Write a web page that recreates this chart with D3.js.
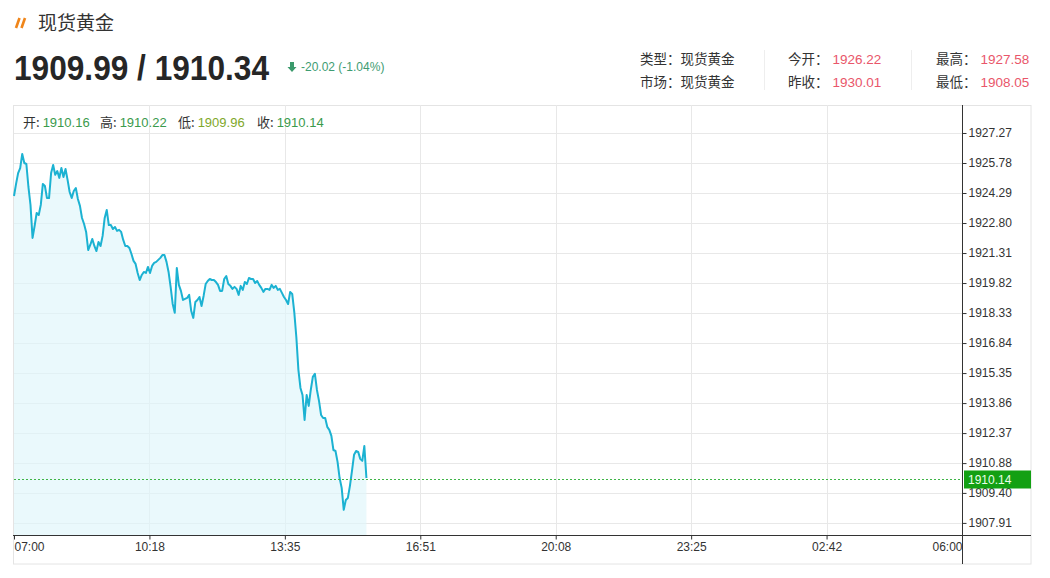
<!DOCTYPE html>
<html><head><meta charset="utf-8">
<script src="https://cdn.jsdelivr.net/npm/d3@7/dist/d3.min.js"></script>
<style>
html,body{margin:0;padding:0;background:#fff;}
svg{display:block;font-family:"Liberation Sans",Arial,sans-serif;}
.cjk{font-family:"Noto Sans CJK SC","Liberation Sans",sans-serif;}
</style></head>
<body><svg id="c" width="1050" height="578"></svg>
<script>
// ---- data ----
const title = "现货黄金";
const bid = "1909.99", ask = "1910.34";
const change = "-20.02", changePct = "-1.04%";
const infoLeft = [["类型：", "现货黄金"], ["市场：", "现货黄金"]];
const infoMid = [["今开：", "1926.22"], ["昨收：", "1930.01"]];
const infoRight = [["最高：", "1927.58"], ["最低：", "1908.05"]];
const ohlcLabels = ["开", "高", "低", "收"];
const ohlcValues = ["1910.16", "1910.22", "1909.96", "1910.14"];
const lastPrice = 1910.14;
const startTime = "07:00";
const stepMinutes = 3;
const sessionMinutes = 1380;
const xTickLabels = ["07:00", "10:18", "13:35", "16:51", "20:08", "23:25", "02:42", "06:00"];
const yTickLabels = ["1927.27","1925.78","1924.29","1922.80","1921.31","1919.82","1918.33","1916.84","1915.35","1913.86","1912.37","1910.88","1909.40","1907.91"];
const yDomain = [1907.31, 1928.66];
const prices = [
1924.14,1924.74,1925.28,1925.53,1926.23,1925.78,1925.73,1924.59,1923.70,1922.06,
1922.65,1923.30,1923.20,1923.70,1924.74,1924.64,1924.04,1924.04,1925.28,1925.68,
1925.19,1925.38,1925.04,1925.53,1925.09,1925.48,1924.94,1924.34,1924.04,1924.39,
1924.54,1923.99,1923.65,1923.05,1922.75,1922.36,1921.46,1921.71,1922.01,1921.66,
1921.41,1921.86,1921.66,1922.16,1923.05,1923.45,1922.70,1922.70,1922.50,1922.60,
1922.41,1922.46,1922.36,1921.96,1921.66,1921.66,1921.56,1921.26,1920.92,1920.77,
1920.32,1919.97,1920.22,1920.37,1920.32,1920.62,1920.32,1920.67,1920.82,1920.87,
1920.97,1921.07,1921.21,1921.21,1920.87,1920.37,1919.63,1918.78,1918.34,1920.57,
1919.73,1919.43,1918.98,1919.03,1919.08,1919.23,1918.43,1918.09,1918.88,1918.98,
1919.13,1918.68,1919.18,1919.77,1919.92,1920.02,1919.97,1919.97,1919.87,1919.73,
1919.43,1919.43,1920.02,1920.17,1919.77,1919.68,1919.53,1919.63,1919.53,1919.23,
1919.68,1919.48,1919.87,1919.77,1920.07,1920.02,1920.02,1919.82,1919.92,1919.73,
1919.58,1919.38,1919.53,1919.53,1919.48,1919.73,1919.58,1919.68,1919.48,1919.53,
1919.33,1919.13,1918.98,1918.78,1919.38,1919.28,1918.38,1917.14,1915.51,1914.61,
1914.26,1913.02,1914.26,1913.72,1914.51,1915.16,1915.31,1914.51,1913.97,1913.27,
1913.12,1913.12,1912.68,1912.53,1912.23,1911.53,1911.48,1910.94,1910.14,1909.65,
1908.56,1909.05,1909.15,1909.75,1910.49,1911.29,1911.48,1911.44,1911.09,1910.99,
1911.73,1910.14
];

// ---- layout ----
const svg = d3.select("#c");
const L = 14, R = 962, T = 105, B = 535, frameR = 1031, frameB = 564;
const x = d3.scaleLinear().domain([0, sessionMinutes]).range([L, R]);
const y = d3.scaleLinear().domain(yDomain).range([B, T]);
const data = prices.map((v, i) => ({ m: i * stepMinutes, v }));
const xTicks = xTickLabels.map((s, i) => ({ m: i * sessionMinutes / (xTickLabels.length - 1), s }));
const yTicks = yTickLabels.map(s => +s);

// header
const icon = svg.append("g").attr("stroke", "#f08519").attr("stroke-width", 2.6).attr("stroke-linecap", "butt");
icon.append("line").attr("x1", 16).attr("y1", 28).attr("x2", 19.5).attr("y2", 18);
icon.append("line").attr("x1", 21.5).attr("y1", 28).attr("x2", 25).attr("y2", 18);
svg.append("text").attr("class", "cjk").attr("x", 38).attr("y", 30).attr("font-size", 19).attr("fill", "#333").text(title);
svg.append("text").attr("x", 14).attr("y", 80).attr("font-size", 35).attr("font-weight", "bold").attr("fill", "#262626")
  .attr("textLength", 255).attr("lengthAdjust", "spacingAndGlyphs").text(bid + " / " + ask);
svg.append("path").attr("d", "M290,62 h4 v5 h2.5 l-4.5,5 l-4.5,-5 h2.5 z").attr("fill", "#3a9a6c");
svg.append("text").attr("x", 301).attr("y", 70.5).attr("font-size", 12).attr("fill", "#3e9c72").text(change + " (" + changePct + ")");

function infoCol(arr, x0, valColor, gap) {
  arr.forEach((d, i) => {
    const t = svg.append("text").attr("class", "cjk").attr("x", x0).attr("y", 64 + i * 22.5).attr("font-size", 13.5).attr("fill", "#333");
    t.append("tspan").text(d[0]);
    t.append("tspan").attr("fill", valColor).attr("dx", gap).attr("font-family", gap ? "'Liberation Sans',Arial,sans-serif" : null).text(d[1]);
  });
}
infoCol(infoLeft, 640, "#333", 0);
infoCol(infoMid, 788, "#e9566a", 4);
infoCol(infoRight, 936, "#e9566a", 4);
[764, 911].forEach(sx => svg.append("line").attr("x1", sx + 0.5).attr("x2", sx + 0.5).attr("y1", 50).attr("y2", 90).attr("stroke", "#eeeeee"));

// frame
svg.append("rect").attr("x", 13.5).attr("y", 105.5).attr("width", frameR - 13.5).attr("height", frameB - 105.5).attr("fill", "none").attr("stroke", "#e4e4e4");

// gridlines
svg.append("g").selectAll("line").data(yTicks).join("line")
  .attr("x1", L).attr("x2", R).attr("y1", d => Math.round(y(d)) + 0.5).attr("y2", d => Math.round(y(d)) + 0.5)
  .attr("stroke", "#e8e8e8");
svg.append("g").selectAll("line").data(xTicks.slice(1, -1)).join("line")
  .attr("x1", d => Math.round(x(d.m)) + 0.5).attr("x2", d => Math.round(x(d.m)) + 0.5).attr("y1", T).attr("y2", B)
  .attr("stroke", "#e8e8e8");

// area + line
const area = d3.area().x(d => x(d.m)).y0(B).y1(d => y(d.v));
const line = d3.line().x(d => x(d.m)).y(d => y(d.v));
svg.append("path").datum(data).attr("d", area).attr("fill", "#dff6fb").attr("fill-opacity", 0.65);
svg.append("path").datum(data).attr("d", line).attr("fill", "none").attr("stroke", "#1cb2d2").attr("stroke-width", 2).attr("stroke-linejoin", "round");

// last price dotted line
const ly = Math.round(y(lastPrice)) + 1.5;
svg.append("line").attr("x1", L).attr("x2", R).attr("y1", ly).attr("y2", ly).attr("stroke", "#3fb547").attr("stroke-dasharray", "2,2").attr("stroke-width", 1);

// axes
const yAxis = d3.axisRight(y).tickValues(yTicks).tickSize(4).tickFormat((d, i) => yTickLabels[i]);
const gy = svg.append("g").attr("transform", `translate(${R + 0.5},0)`).call(yAxis);
gy.select(".domain").remove();
gy.selectAll(".tick line").attr("stroke", "#333");
gy.selectAll("text").attr("font-size", 12).attr("fill", "#333").attr("x", 6).attr("font-family", "'Liberation Sans',Arial,sans-serif");
svg.append("line").attr("x1", R + 0.5).attr("x2", R + 0.5).attr("y1", T).attr("y2", frameB).attr("stroke", "#333");

const xAxis = d3.axisBottom(x).tickValues(xTicks.map(d => d.m)).tickSize(4).tickFormat((d, i) => xTickLabels[i]);
const gx = svg.append("g").attr("transform", `translate(0,${B + 0.5})`).call(xAxis);
gx.select(".domain").remove();
gx.selectAll(".tick line").attr("stroke", "#333");
gx.selectAll("text").attr("font-size", 12).attr("fill", "#333").attr("y", 7).attr("font-family", "'Liberation Sans',Arial,sans-serif")
  .attr("text-anchor", (d, i) => i === 0 ? "start" : (i === xTickLabels.length - 1 ? "end" : "middle"));
svg.append("line").attr("x1", 13).attr("x2", frameR).attr("y1", B + 0.5).attr("y2", B + 0.5).attr("stroke", "#333");

// price tag
svg.append("rect").attr("x", 964).attr("y", ly - 9).attr("width", 67).attr("height", 18).attr("fill", "#13a013");
svg.append("text").attr("x", 968).attr("y", ly + 4.5).attr("font-size", 12).attr("fill", "#eaffea").text(lastPrice.toFixed(2));

// OHLC row
const ohlcX = [23, 100, 178, 257];
ohlcLabels.forEach((lab, i) => {
  const t = svg.append("text").attr("x", ohlcX[i]).attr("y", 127).attr("font-size", 13);
  t.append("tspan").attr("font-family", "'Noto Sans CJK SC',sans-serif").attr("fill", "#333").text(lab + ":");
  t.append("tspan").attr("dx", 3).attr("fill", i === 2 ? "#7fa82a" : "#3a9a4c").text(ohlcValues[i]);
});
</script></body></html>
